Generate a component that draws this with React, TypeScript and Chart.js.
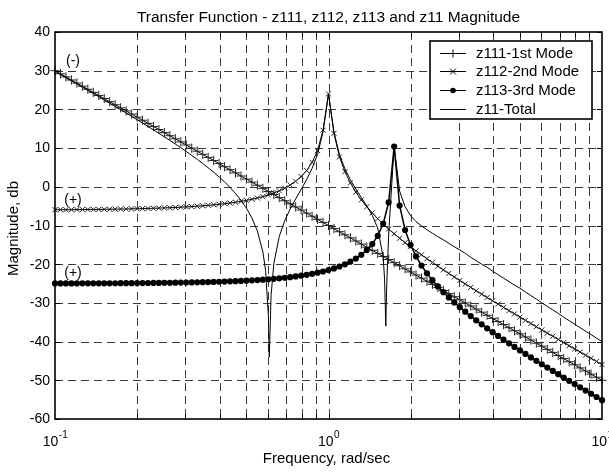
import React, { useEffect, useRef } from "react";
import { Chart, registerables } from "chart.js";

Chart.register(...registerables);

// Frequency grid, rad/sec
const FREQ = [0.1, 0.10471, 0.10965, 0.11482, 0.12023, 0.12589, 0.13183, 0.13804, 0.14454, 0.15136, 0.15849, 0.16596, 0.17378, 0.18197, 0.19055, 0.19953, 0.20893, 0.21878, 0.22909, 0.23988, 0.25119, 0.26303, 0.27542, 0.2884, 0.302, 0.31623, 0.33113, 0.34674, 0.36308, 0.38019, 0.39811, 0.41687, 0.43652, 0.45709, 0.47863, 0.50119, 0.52481, 0.54954, 0.57544, 0.60256, 0.63096, 0.66069, 0.69183, 0.72444, 0.75858, 0.79433, 0.83176, 0.87096, 0.91201, 0.95499, 1, 1.0471, 1.0965, 1.1482, 1.2023, 1.2589, 1.3183, 1.3804, 1.4454, 1.5136, 1.5849, 1.6596, 1.7378, 1.8197, 1.9055, 1.9953, 2.0893, 2.1878, 2.2909, 2.3988, 2.5119, 2.6303, 2.7542, 2.884, 3.02, 3.1623, 3.3113, 3.4674, 3.6308, 3.8019, 3.9811, 4.1687, 4.3652, 4.5709, 4.7863, 5.0119, 5.2481, 5.4954, 5.7544, 6.0256, 6.3096, 6.6069, 6.9183, 7.2444, 7.5858, 7.9433, 8.3176, 8.7096, 9.1201, 9.5499, 10];

// z111 - 1st mode (dB)
const Z111 = [30, 29.2, 28.4, 27.6, 26.8, 26, 25.2, 24.4, 23.6, 22.8, 22, 21.2, 20.4, 19.6, 18.8, 18, 17.2, 16.4, 15.6, 14.8, 14, 13.2, 12.4, 11.6, 10.8, 10, 9.2, 8.4, 7.6, 6.8, 6, 5.2, 4.4, 3.6, 2.8, 2, 1.2, 0.4, -0.4, -1.2, -2, -2.8, -3.6, -4.4, -5.2, -6, -6.8, -7.6, -8.4, -9.2, -10, -10.8, -11.6, -12.4, -13.2, -14, -14.8, -15.6, -16.4, -17.2, -18, -18.8, -19.6, -20.4, -21.2, -22, -22.8, -23.6, -24.4, -25.2, -26, -26.8, -27.6, -28.4, -29.2, -30, -30.8, -31.6, -32.4, -33.2, -34, -34.8, -35.6, -36.4, -37.2, -38, -38.8, -39.6, -40.4, -41.2, -42, -42.8, -43.6, -44.4, -45.2, -46, -46.8, -47.6, -48.4, -49.2, -50];

// z112 - 2nd mode (dB)
const Z112 = [-5.93, -5.92, -5.92, -5.91, -5.89, -5.88, -5.87, -5.85, -5.84, -5.82, -5.8, -5.78, -5.75, -5.73, -5.7, -5.67, -5.63, -5.59, -5.55, -5.51, -5.45, -5.4, -5.34, -5.27, -5.19, -5.11, -5.01, -4.91, -4.79, -4.66, -4.52, -4.36, -4.18, -3.98, -3.76, -3.51, -3.22, -2.9, -2.53, -2.1, -1.61, -1.04, -0.36, 0.44, 1.42, 2.64, 4.2, 6.33, 9.34, 14.61, 24, 13.81, 7.73, 3.92, 1.01, -1.36, -3.38, -5.16, -6.76, -8.24, -9.61, -10.9, -12.13, -13.3, -14.42, -15.51, -16.56, -17.58, -18.58, -19.56, -20.52, -21.46, -22.39, -23.31, -24.21, -25.11, -25.99, -26.87, -27.74, -28.6, -29.45, -30.31, -31.15, -31.99, -32.83, -33.67, -34.5, -35.33, -36.15, -36.98, -37.8, -38.62, -39.44, -40.25, -41.07, -41.88, -42.69, -43.51, -44.32, -45.12, -45.93];

// z113 - 3rd mode (dB)
const Z113 = [-24.97, -24.97, -24.97, -24.96, -24.96, -24.95, -24.95, -24.94, -24.94, -24.93, -24.93, -24.92, -24.91, -24.9, -24.9, -24.89, -24.87, -24.86, -24.85, -24.83, -24.82, -24.8, -24.78, -24.76, -24.73, -24.71, -24.68, -24.65, -24.61, -24.57, -24.53, -24.49, -24.43, -24.38, -24.31, -24.25, -24.17, -24.09, -23.99, -23.89, -23.77, -23.64, -23.5, -23.34, -23.16, -22.96, -22.74, -22.49, -22.2, -21.88, -21.51, -21.08, -20.59, -20.02, -19.34, -18.54, -17.56, -16.34, -14.78, -12.66, -9.55, -4.03, 10.4, -4.84, -11.16, -15.06, -17.98, -20.34, -22.36, -24.14, -25.74, -27.22, -28.59, -29.88, -31.11, -32.28, -33.4, -34.49, -35.54, -36.56, -37.56, -38.54, -39.5, -40.44, -41.37, -42.29, -43.19, -44.09, -44.97, -45.85, -46.72, -47.58, -48.43, -49.29, -50.13, -50.97, -51.81, -52.65, -53.48, -54.31, -55.13];

// z11 - total (own frequency list, denser at the anti-resonances)
const Z11_FREQ = [0.1, 0.10471, 0.10965, 0.11482, 0.12023, 0.12589, 0.13183, 0.13804, 0.14454, 0.15136, 0.15849, 0.16596, 0.17378, 0.18197, 0.19055, 0.19953, 0.20893, 0.21878, 0.22909, 0.23988, 0.25119, 0.26303, 0.27542, 0.2884, 0.302, 0.31623, 0.33113, 0.34674, 0.36308, 0.38019, 0.39811, 0.41687, 0.43652, 0.45709, 0.47863, 0.50119, 0.52481, 0.54954, 0.57544, 0.5888, 0.60256, 0.6075, 0.6166, 0.63096, 0.66069, 0.69183, 0.72444, 0.75858, 0.79433, 0.83176, 0.87096, 0.91201, 0.95499, 1, 1.0471, 1.0965, 1.1482, 1.2023, 1.2589, 1.3183, 1.3804, 1.4454, 1.5136, 1.5849, 1.6032, 1.62, 1.6293, 1.6596, 1.7378, 1.8197, 1.9055, 1.9953, 2.0893, 2.1878, 2.2909, 2.3988, 2.5119, 2.6303, 2.7542, 2.884, 3.02, 3.1623, 3.3113, 3.4674, 3.6308, 3.8019, 3.9811, 4.1687, 4.3652, 4.5709, 4.7863, 5.0119, 5.2481, 5.4954, 5.7544, 6.0256, 6.3096, 6.6069, 6.9183, 7.2444, 7.5858, 7.9433, 8.3176, 8.7096, 9.1201, 9.5499, 10];
const Z11_DB = [29.84, 29.03, 28.21, 27.39, 26.57, 25.75, 24.93, 24.1, 23.27, 22.43, 21.6, 20.76, 19.91, 19.06, 18.21, 17.34, 16.47, 15.6, 14.71, 13.82, 12.91, 11.99, 11.05, 10.1, 9.12, 8.12, 7.1, 6.03, 4.93, 3.78, 2.55, 1.25, -0.16, -1.72, -3.47, -5.51, -8.05, -11.43, -16.82, -21.6, -33.15, -44, -28.1, -19.9, -12.82, -8.75, -5.72, -3.13, -0.68, 1.86, 4.76, 8.4, 14.17, 24, 14.15, 8.32, 4.66, 1.82, -0.57, -2.77, -4.95, -7.37, -10.68, -18.25, -23.9, -36, -27.4, -12.17, 10.45, -1.1, -5.13, -7.46, -9, -10.1, -11.1, -12, -12.9, -13.7, -14.6, -15.5, -16.3, -17.2, -18.2, -19.1, -20, -20.8, -21.8, -22.7, -23.6, -24.5, -25.4, -26.2, -27.2, -28.1, -29, -30, -30.9, -31.8, -32.7, -33.7, -34.6, -35.5, -36.4, -37.3, -38.2, -39.1, -40];

const Y_TICKS = [40, 30, 20, 10, 0, -10, -20, -30, -40, -50, -60];
const X_GRID = [0.2, 0.3, 0.4, 0.5, 0.6, 0.7, 0.8, 0.9, 1, 2, 3, 4, 5, 6, 7, 8, 9];
const X_LABELS = [
  { v: 0.1, base: "10", exp: "-1" },
  { v: 1, base: "10", exp: "0" },
  { v: 10, base: "10", exp: "1" },
];
const LEGEND = [
  { label: "z111-1st Mode", marker: "plus" },
  { label: "z112-2nd Mode", marker: "x" },
  { label: "z113-3rd Mode", marker: "dot" },
  { label: "z11-Total", marker: "none" },
];
const SIGN_NOTES = [
  { text: "(-)", f: 0.1, db: 30 },
  { text: "(+)", f: 0.1, db: -6 },
  { text: "(+)", f: 0.1, db: -25 },
];
const TITLE = "Transfer Function - z111, z112, z113 and z11 Magnitude";
const X_TITLE = "Frequency, rad/sec";
const Y_TITLE = "Magnitude, db";

const FONT = "'Liberation Sans', Arial, Helvetica, sans-serif";

function drawMarker(ctx: CanvasRenderingContext2D, kind: string, x: number, y: number) {
  ctx.beginPath();
  if (kind === "plus") {
    ctx.moveTo(x - 4, y); ctx.lineTo(x + 4, y);
    ctx.moveTo(x, y - 4); ctx.lineTo(x, y + 4);
    ctx.stroke();
  } else if (kind === "x") {
    ctx.moveTo(x - 3, y - 3); ctx.lineTo(x + 3, y + 3);
    ctx.moveTo(x - 3, y + 3); ctx.lineTo(x + 3, y - 3);
    ctx.stroke();
  } else if (kind === "dot") {
    ctx.arc(x, y, 2.8, 0, Math.PI * 2);
    ctx.fill();
  }
}

const decor = {
  id: "decor",
  beforeDatasetsDraw(chart: any) {
    const { ctx, chartArea: a, scales } = chart;
    const xs = scales.x, ys = scales.y;
    ctx.save();
    ctx.strokeStyle = "#3a3a3a";
    ctx.lineWidth = 1;
    ctx.setLineDash([8, 5]);
    for (const v of Y_TICKS) {
      if (v === 40 || v === -60) continue;
      const py = Math.round(ys.getPixelForValue(v)) + 0.5;
      ctx.beginPath(); ctx.moveTo(a.left, py); ctx.lineTo(a.right, py); ctx.stroke();
    }
    for (const v of X_GRID) {
      const px = Math.round(xs.getPixelForValue(v)) + 0.5;
      ctx.beginPath(); ctx.moveTo(px, a.top); ctx.lineTo(px, a.bottom); ctx.stroke();
    }
    ctx.restore();
  },
  afterDatasetsDraw(chart: any) {
    const { ctx, chartArea: a, scales } = chart;
    const xs = scales.x, ys = scales.y;
    ctx.save();
    ctx.setLineDash([]);
    ctx.strokeStyle = "#000";
    ctx.fillStyle = "#000";
    // frame
    ctx.lineWidth = 1.6;
    ctx.strokeRect(a.left, a.top, a.right - a.left, a.bottom - a.top);
    // ticks
    ctx.lineWidth = 1;
    for (const v of X_GRID) {
      const px = Math.round(xs.getPixelForValue(v)) + 0.5;
      ctx.beginPath();
      ctx.moveTo(px, a.bottom); ctx.lineTo(px, a.bottom - 5);
      ctx.moveTo(px, a.top); ctx.lineTo(px, a.top + 5);
      ctx.stroke();
    }
    for (const v of Y_TICKS) {
      const py = Math.round(ys.getPixelForValue(v)) + 0.5;
      ctx.beginPath();
      ctx.moveTo(a.left, py); ctx.lineTo(a.left + 5, py);
      ctx.moveTo(a.right, py); ctx.lineTo(a.right - 5, py);
      ctx.stroke();
    }
    // y tick labels
    ctx.font = `14px ${FONT}`;
    ctx.textAlign = "right";
    ctx.textBaseline = "middle";
    for (const v of Y_TICKS) {
      ctx.fillText(String(v), a.left - 5, ys.getPixelForValue(v) + 0.5);
    }
    // x tick labels with superscript
    ctx.textAlign = "left";
    ctx.textBaseline = "alphabetic";
    for (const t of X_LABELS) {
      const px = xs.getPixelForValue(t.v);
      ctx.font = `14px ${FONT}`;
      const wb = ctx.measureText(t.base).width;
      ctx.font = `10px ${FONT}`;
      const we = ctx.measureText(t.exp).width;
      const x0 = px - (wb + we) / 2;
      ctx.font = `14px ${FONT}`;
      ctx.fillText(t.base, x0, a.bottom + 27);
      ctx.font = `10px ${FONT}`;
      ctx.fillText(t.exp, x0 + wb + 0.5, a.bottom + 19);
    }
    // axis titles
    ctx.font = `15px ${FONT}`;
    ctx.textAlign = "center";
    ctx.fillText(X_TITLE, (a.left + a.right) / 2 - 2, a.bottom + 44);
    ctx.save();
    ctx.translate(14, (a.top + a.bottom) / 2 + 3);
    ctx.rotate(-Math.PI / 2);
    ctx.textBaseline = "middle";
    ctx.fillText(Y_TITLE, 0, 0);
    ctx.restore();
    // title
    ctx.font = `15.5px ${FONT}`;
    ctx.textAlign = "center";
    ctx.textBaseline = "alphabetic";
    ctx.fillText(TITLE, (a.left + a.right) / 2, 22);
    // sign notes
    ctx.font = `14px ${FONT}`;
    ctx.textBaseline = "middle";
    for (const n of SIGN_NOTES) {
      const px = xs.getPixelForValue(n.f) + 18;
      const py = ys.getPixelForValue(n.db) - 10;
      ctx.fillText(n.text, px, py);
    }
    // legend
    const lx = 430, ly = 41, lw = 162, lh = 78;
    ctx.fillStyle = "#fff";
    ctx.fillRect(lx, ly, lw, lh);
    ctx.strokeStyle = "#000";
    ctx.lineWidth = 1.6;
    ctx.strokeRect(lx, ly, lw, lh);
    ctx.fillStyle = "#000";
    ctx.lineWidth = 1;
    ctx.font = `15px ${FONT}`;
    ctx.textAlign = "left";
    ctx.textBaseline = "middle";
    LEGEND.forEach((e, i) => {
      const cy = Math.round(ly + 11.5 + i * 18.8) + 0.5;
      ctx.beginPath(); ctx.moveTo(440, cy); ctx.lineTo(466, cy); ctx.stroke();
      drawMarker(ctx, e.marker, 453, cy);
      ctx.fillText(e.label, 476, cy + 0.5);
    });
    ctx.restore();
  },
};

export default function App() {
  const ref = useRef<HTMLCanvasElement | null>(null);
  useEffect(() => {
    if (!ref.current) return;
    const pts = (ys: number[]) => FREQ.map((f, i) => ({ x: f, y: ys[i] }));
    const chart = new Chart(ref.current, {
      type: "line",
      data: {
        datasets: [
          {
            label: "z11-Total",
            data: Z11_FREQ.map((f, i) => ({ x: f, y: Z11_DB[i] })),
            borderColor: "#000",
            borderWidth: 1,
            pointRadius: 0,
            tension: 0,
            clip: false,
          },
          {
            label: "z113-3rd Mode",
            data: pts(Z113),
            borderColor: "#000",
            backgroundColor: "#000",
            borderWidth: 1.5,
            pointStyle: "circle",
            pointRadius: 3.1,
            pointBorderWidth: 0,
            pointBackgroundColor: "#000",
            tension: 0,
            clip: false,
          },
          {
            label: "z112-2nd Mode",
            data: pts(Z112),
            borderColor: "#000",
            borderWidth: 1,
            pointStyle: "crossRot",
            pointRadius: 3.6,
            pointBorderWidth: 1,
            pointBorderColor: "#222",
            tension: 0,
            clip: false,
          },
          {
            label: "z111-1st Mode",
            data: pts(Z111),
            borderColor: "#000",
            borderWidth: 1,
            pointStyle: "cross",
            pointRadius: 4.6,
            pointBorderWidth: 1,
            pointBorderColor: "#222",
            tension: 0,
            clip: false,
          },
        ],
      },
      options: {
        animation: false,
        responsive: false,
        devicePixelRatio: 1,
        events: [],
        layout: { padding: { left: 55, right: 7, top: 32, bottom: 53 } },
        plugins: { legend: { display: false }, tooltip: { enabled: false }, title: { display: false } },
        scales: {
          x: { type: "logarithmic", min: 0.1, max: 10, display: false },
          y: { type: "linear", min: -60, max: 40, display: false },
        },
      },
      plugins: [decor],
    });
    return () => chart.destroy();
  }, []);
  return (
    <div style={{ position: "fixed", left: 0, top: 0, width: 609, height: 472, background: "#fff" }}>
      <canvas ref={ref} width={609} height={472} style={{ display: "block" }} />
    </div>
  );
}
